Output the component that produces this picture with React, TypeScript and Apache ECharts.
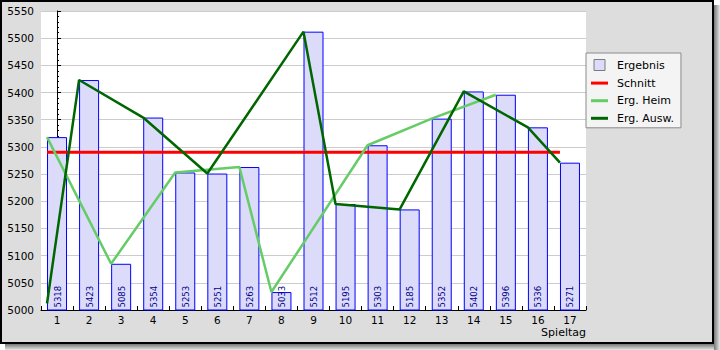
import React, { useEffect, useRef } from "react";
import * as echarts from "echarts";

const categories = ["1", "2", "3", "4", "5", "6", "7", "8", "9", "10", "11", "12", "13", "14", "15", "16", "17"];
const ergebnis = [5318, 5423, 5085, 5354, 5253, 5251, 5263, 5033, 5512, 5195, 5303, 5185, 5352, 5402, 5396, 5336, 5271];
const schnitt = [5290, 5290, 5290, 5290, 5290, 5290, 5290, 5290, 5290, 5290, 5290, 5290, 5290, 5290, 5290, 5290, 5290];
const ergHeim = [5318, null, 5085, null, 5253, null, 5263, 5033, null, null, 5303, null, 5352, null, 5396, null, null];
const ergAusw = [5012, 5423, null, 5354, null, 5251, null, null, 5512, 5195, null, 5185, null, 5402, null, 5336, 5271];
const yMin = 5000;
const yMax = 5550;
const yStep = 50;

const FONT = "DejaVu Sans";
const LAVENDER = "#dcdcfa";

// lines are anchored at the left edge of each bar (bar = 20px of a 32px category)
const LINE_OFFSET = -0.3125;
const toPoints = (arr: (number | null)[]) =>
  arr
    .map((v, i) => (v == null ? null : [i + LINE_OFFSET, v]))
    .filter((p) => p !== null) as number[][];

export default function App() {
  const ref = useRef<HTMLDivElement>(null);
  useEffect(() => {
    document.body.style.margin = "0";
    if (!ref.current) return;
    const chart = echarts.init(ref.current, undefined, { renderer: "svg" });
    chart.setOption({
      animation: false,
      backgroundColor: "#ffffff",
      graphic: [
        {
          type: "rect",
          z: -10,
          silent: true,
          shape: { x: 714, y: 5, width: 6, height: 345 },
          style: {
            fill: new echarts.graphic.LinearGradient(0, 0, 1, 0, [
              { offset: 0, color: "#777777" },
              { offset: 1, color: "#e8e8e8" },
            ]),
          },
        },
        {
          type: "rect",
          z: -10,
          silent: true,
          shape: { x: 5, y: 344, width: 709, height: 6 },
          style: {
            fill: new echarts.graphic.LinearGradient(0, 0, 0, 1, [
              { offset: 0, color: "#777777" },
              { offset: 1, color: "#e8e8e8" },
            ]),
          },
        },
        {
          type: "rect",
          z: -10,
          silent: true,
          shape: { x: 1, y: 1, width: 712, height: 342 },
          style: { fill: "#dddddd", stroke: "#000000", lineWidth: 2 },
        },
      ],
      grid: {
        left: 41,
        top: 11,
        width: 545,
        height: 299,
        show: true,
        backgroundColor: "#ffffff",
        borderWidth: 0,
      },
      legend: {
        orient: "vertical",
        left: 586,
        top: 53,
        padding: [6, 7, 4, 5],
        itemWidth: 17,
        itemHeight: 11,
        itemGap: 6.6,
        backgroundColor: "#f4f4f4",
        borderColor: "#8a8a8a",
        borderWidth: 1,
        borderRadius: 0,
        textStyle: { fontFamily: FONT, fontSize: 11, color: "#000000", padding: [0, 0, 0, 4] },
        data: [
          {
            name: "Ergebnis",
            icon: "path://M0,0H10V10H0Z",
            itemStyle: { color: LAVENDER, borderColor: "#7a7a7a", borderWidth: 1 },
          },
          { name: "Schnitt", icon: "path://M0,0H17V3H0Z", itemStyle: { color: "#ff0000", borderWidth: 0 } },
          { name: "Erg. Heim", icon: "path://M0,0H17V3H0Z", itemStyle: { color: "#66cc66", borderWidth: 0 } },
          { name: "Erg. Ausw.", icon: "path://M0,0H17V3H0Z", itemStyle: { color: "#006600", borderWidth: 0 } },
        ],
      },
      xAxis: [
        {
          type: "category",
          data: categories,
          boundaryGap: true,
          axisLine: { show: true, lineStyle: { color: "#000000", width: 1 } },
          axisTick: { show: true, inside: true, length: 4, lineStyle: { color: "#000000" } },
          axisLabel: { margin: 4, fontFamily: FONT, fontSize: 10.5, color: "#000000" },
          splitLine: { show: false },
          name: "Spieltag",
          nameLocation: "end",
          nameGap: 0,
          nameTextStyle: {
            fontFamily: FONT,
            fontSize: 11,
            color: "#000000",
            align: "right",
            verticalAlign: "top",
            padding: [17, 0, 0, 0],
          },
        },
        {
          type: "value",
          min: -0.5,
          max: categories.length - 0.5,
          show: false,
        },
      ],
      yAxis: {
        type: "value",
        min: yMin,
        max: yMax,
        interval: yStep,
        axisLine: { show: true, lineStyle: { color: "#000000", width: 1 } },
        axisTick: { show: true, inside: true, length: 4, lineStyle: { color: "#000000" } },
        minorTick: { show: true, splitNumber: 5, length: 2, lineStyle: { color: "#000000" } },
        axisLabel: {
          margin: 7,
          fontFamily: FONT,
          fontSize: 10.5,
          color: "#000000",
          formatter: (v: number) => String(v),
        },
        splitLine: { show: true, lineStyle: { color: "#cccccc", width: 1 } },
      },
      series: [
        {
          name: "Ergebnis",
          type: "bar",
          data: ergebnis,
          barWidth: 20,
          itemStyle: { color: LAVENDER, borderColor: "#0000ff", borderWidth: 1 },
          label: {
            show: true,
            position: "insideBottom",
            distance: 3,
            rotate: 90,
            align: "left",
            verticalAlign: "middle",
            fontFamily: "DejaVu Sans Condensed, DejaVu Sans",
            fontSize: 9.5,
            color: "#00008b",
          },
          z: 2,
        },
        {
          name: "Schnitt",
          type: "line",
          xAxisIndex: 1,
          data: toPoints(schnitt),
          symbol: "none",
          lineStyle: { color: "#ff0000", width: 3 },
          itemStyle: { color: "#ff0000" },
          z: 3,
        },
        {
          name: "Erg. Heim",
          type: "line",
          xAxisIndex: 1,
          data: toPoints(ergHeim),
          symbol: "none",
          lineStyle: { color: "#66cc66", width: 2.5 },
          itemStyle: { color: "#66cc66" },
          z: 4,
        },
        {
          name: "Erg. Ausw.",
          type: "line",
          xAxisIndex: 1,
          data: toPoints(ergAusw),
          symbol: "none",
          lineStyle: { color: "#006600", width: 2.5 },
          itemStyle: { color: "#006600" },
          z: 5,
        },
      ],
    });
    return () => chart.dispose();
  }, []);
  return <div ref={ref} style={{ width: 720, height: 350 }} />;
}
